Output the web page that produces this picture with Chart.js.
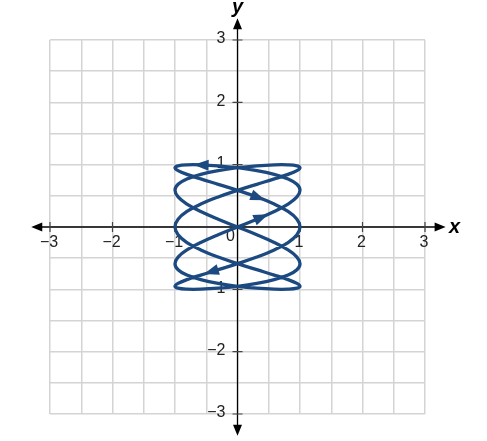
<!DOCTYPE html>
<html>
<head>
<meta charset="utf-8">
<script src="https://cdn.jsdelivr.net/npm/chart.js@4.4.1/dist/chart.umd.min.js"></script>
<style>
  body { margin: 0; background: #fff; }
  #chart { display: block; }
</style>
</head>
<body>
<canvas id="chart" width="487" height="441"></canvas>
<script>
// Curve points, in drawing order
const curveX = [
  0, 0.309, 0.588, 0.809, 0.951, 1, 0.951, 0.809, 0.588, 0.309, 0, -0.309, -0.588, -0.809, -0.951, -1, -0.951, -0.809, -0.588, -0.309,
  0, 0.309, 0.588, 0.809, 0.951, 1, 0.951, 0.809, 0.588, 0.309, 0, -0.309, -0.588, -0.809, -0.951, -1, -0.951, -0.809, -0.588, -0.309,
  0, 0.309, 0.588, 0.809, 0.951, 1, 0.951, 0.809, 0.588, 0.309, 0, -0.309, -0.588, -0.809, -0.951, -1, -0.951, -0.809, -0.588, -0.309,
  0, 0.309, 0.588, 0.809, 0.951, 1, 0.951, 0.809, 0.588, 0.309, 0, -0.309, -0.588, -0.809, -0.951, -1, -0.951, -0.809, -0.588, -0.309,
  0, 0.309, 0.588, 0.809, 0.951, 1, 0.951, 0.809, 0.588, 0.309, 0, -0.309, -0.588, -0.809, -0.951, -1, -0.951, -0.809, -0.588, -0.309,
  0
];
const curveY = [
  0, 0.125, 0.249, 0.368, 0.482, 0.588, 0.685, 0.771, 0.844, 0.905, 0.951, 0.982, 0.998, 0.998, 0.982, 0.951, 0.905, 0.844, 0.771, 0.685, 0.588, 0.482, 0.368, 0.249, 0.125,
  0, -0.125, -0.249, -0.368, -0.482, -0.588, -0.685, -0.771, -0.844, -0.905, -0.951, -0.982, -0.998, -0.998, -0.982, -0.951, -0.905, -0.844, -0.771, -0.685, -0.588, -0.482, -0.368, -0.249, -0.125,
  0, 0.125, 0.249, 0.368, 0.482, 0.588, 0.685, 0.771, 0.844, 0.905, 0.951, 0.982, 0.998, 0.998, 0.982, 0.951, 0.905, 0.844, 0.771, 0.685, 0.588, 0.482, 0.368, 0.249, 0.125,
  0, -0.125, -0.249, -0.368, -0.482, -0.588, -0.685, -0.771, -0.844, -0.905, -0.951, -0.982, -0.998, -0.998, -0.982, -0.951, -0.905, -0.844, -0.771, -0.685, -0.588, -0.482, -0.368, -0.249, -0.125,
  0
];

// Direction arrows on the curve: position and heading
const arrowX = [0.39, -0.59, 0.34, -0.43];
const arrowY = [0.16, 0.995, 0.47, -0.72];
const arrowDX = [4.6, -4.03, 4.7, -4.52];
const arrowDY = [1.97, 0.12, -1.77, -1.39];

// Axis ticks and labels
const tickValues = [-3, -2, -1, 1, 2, 3];
const tickLabels = ['\u22123', '\u22122', '\u22121', '1', '2', '3'];

const curveColor = '#1c4a80';
const fontName = '"Liberation Sans", Arial, sans-serif';

function drawHead(ctx, tx, ty, ang, len, hw) {
    ctx.save();
    ctx.translate(tx, ty);
    ctx.rotate(ang);
    ctx.beginPath();
    ctx.moveTo(0, 0);
    ctx.lineTo(-len, -hw);
    ctx.lineTo(-len, hw);
    ctx.closePath();
    ctx.fill();
    ctx.restore();
}

const axesPlugin = {
    id: 'axes',
    beforeDatasetsDraw(chart) {
        const ctx = chart.ctx;
        const xs = chart.scales.x;
        const ys = chart.scales.y;
        const x0 = xs.getPixelForValue(0);
        const y0 = ys.getPixelForValue(0);
        const xl = xs.getPixelForValue(-3.3), xr = xs.getPixelForValue(3.33);
        const yt = ys.getPixelForValue(3.35), yb = ys.getPixelForValue(-3.35);

        ctx.save();
        ctx.strokeStyle = '#000';
        ctx.fillStyle = '#000';
        ctx.lineWidth = 1.3;
        ctx.beginPath();
        ctx.moveTo(xl + 4, y0);
        ctx.lineTo(xr - 4, y0);
        ctx.moveTo(x0, yt + 4);
        ctx.lineTo(x0, yb - 4);
        ctx.stroke();
        drawHead(ctx, xl, y0, Math.PI, 11, 4.5);
        drawHead(ctx, xr, y0, 0, 11, 4.5);
        drawHead(ctx, x0, yt, -Math.PI / 2, 11, 4.5);
        drawHead(ctx, x0, yb, Math.PI / 2, 11, 4.5);

        // tick crosses
        ctx.strokeStyle = '#444';
        ctx.lineWidth = 1.2;
        ctx.beginPath();
        tickValues.forEach(v => {
            const px = xs.getPixelForValue(v);
            ctx.moveTo(px, y0 - 5);
            ctx.lineTo(px, y0 + 5);
            const py = ys.getPixelForValue(v);
            ctx.moveTo(x0 - 5, py);
            ctx.lineTo(x0 + 5, py);
        });
        ctx.stroke();

        // tick labels
        ctx.fillStyle = '#222';
        ctx.font = '16px ' + fontName;
        ctx.textBaseline = 'middle';
        ctx.textAlign = 'center';
        tickValues.forEach((v, i) => {
            ctx.fillText(tickLabels[i], xs.getPixelForValue(v) - 1, y0 + 16);
        });
        ctx.textAlign = 'right';
        tickValues.forEach((v, i) => {
            ctx.fillText(tickLabels[i], x0 - 12, ys.getPixelForValue(v) - 1);
        });
        ctx.textAlign = 'center';
        ctx.fillText('0', x0 - 7, y0 + 10);

        // axis names
        ctx.fillStyle = '#000';
        ctx.font = 'italic bold 20px ' + fontName;
        ctx.fillText('x', xr + 9, y0);
        ctx.fillText('y', x0, yt - 11);
        ctx.restore();
    },
    afterDatasetsDraw(chart) {
        const ctx = chart.ctx;
        const xs = chart.scales.x;
        const ys = chart.scales.y;
        ctx.save();
        ctx.fillStyle = curveColor;
        arrowX.forEach((ax, i) => {
            const px = xs.getPixelForValue(ax);
            const py = ys.getPixelForValue(arrowY[i]);
            const qx = xs.getPixelForValue(ax + arrowDX[i] * 0.01);
            const qy = ys.getPixelForValue(arrowY[i] + arrowDY[i] * 0.01);
            const ang = Math.atan2(qy - py, qx - px);
            drawHead(ctx, px + Math.cos(ang) * 7, py + Math.sin(ang) * 7, ang, 15, 5.5);
        });
        ctx.restore();
    }
};

const points = curveX.map((x, i) => ({ x: x, y: curveY[i] }));

new Chart(document.getElementById('chart'), {
    type: 'scatter',
    data: {
        datasets: [{
            data: points,
            showLine: true,
            borderColor: curveColor,
            borderWidth: 3.3,
            tension: 0.4,
            pointRadius: 0,
            fill: false
        }]
    },
    options: {
        responsive: false,
        animation: false,
        layout: { padding: { left: 50, right: 62, top: 40, bottom: 27 } },
        plugins: { legend: { display: false }, tooltip: { enabled: false } },
        scales: {
            x: {
                type: 'linear', min: -3, max: 3,
                ticks: { display: false, stepSize: 0.5 },
                grid: { color: '#d4d4d4', lineWidth: 1.5, drawTicks: false },
                border: { display: false }
            },
            y: {
                type: 'linear', min: -3, max: 3,
                ticks: { display: false, stepSize: 0.5 },
                grid: { color: '#d4d4d4', lineWidth: 1.5, drawTicks: false },
                border: { display: false }
            }
        }
    },
    plugins: [axesPlugin]
});
</script>
</body>
</html>
